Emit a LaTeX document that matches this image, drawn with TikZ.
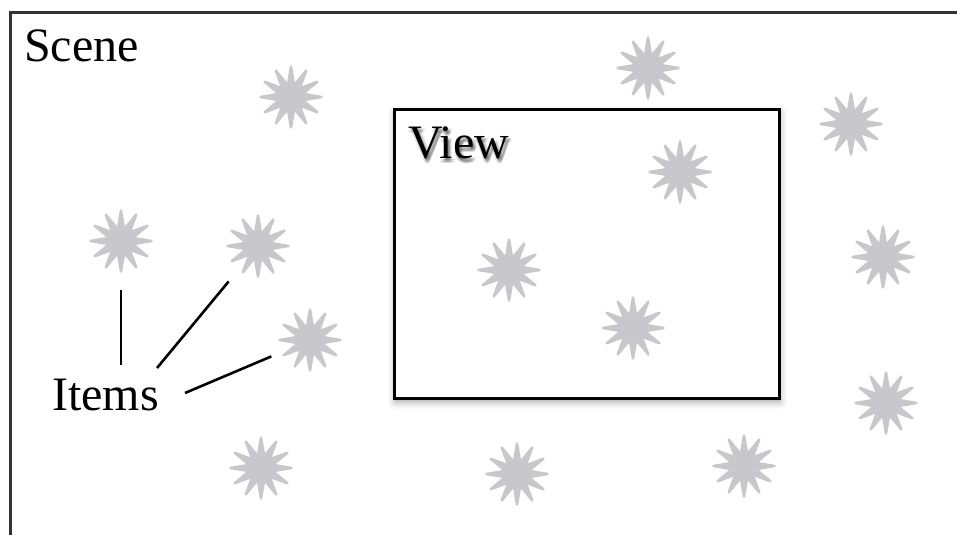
\documentclass[tikz,border=0pt]{standalone}
\usepackage{fontspec}
\setmainfont{Liberation Serif}
\usetikzlibrary{shapes}
\usetikzlibrary{shadows.blur}
\usetikzlibrary{calc}
\definecolor{ItemGrey}{RGB}{200,200,204}
\definecolor{FrameGrey}{RGB}{51,51,51}

\tikzset{
	item/.style={star,star points=12,star point ratio=2.5,minimum size=61pt,inner sep=0pt,fill=ItemGrey,draw=ItemGrey,line width=2.5pt,line join=round},
	label/.style={font=\fontsize{48}{48}\selectfont,inner sep=0pt,anchor=base west},
	pointer/.style={line width=2.6pt,shorten >=46pt}
}

\begin{document}
\begin{tikzpicture}[x=1pt,y=-1pt]
			\useasboundingbox (0,0) rectangle (957,535);
			\begin{scope}
				% scene frame, open to the right and bottom
				\draw[FrameGrey,line width=3pt] (957,13) -- (10,13) -- (10,535);
				\node[label] (scene) at (24,61) {Scene};

				% items spread over the scene
				\node[item] (s1) at (291,97) {};
				\node[item] (s2) at (648,68) {};
				\node[item] (s3) at (851,124) {};
				\node[item] (s5) at (121,241) {};
				\node[item] (s6) at (258,246) {};
				\node[item] (s8) at (883,257) {};
				\node[item] (s9) at (310,340) {};
				\node[item] (s11) at (886,403) {};
				\node[item] (s12) at (261,468) {};
				\node[item] (s13) at (517,474) {};
				\node[item] (s14) at (744,466) {};

				% the view window
				\node[draw,line width=3pt,minimum width=385pt,minimum height=289pt,inner sep=0pt,fill=white,
					blur shadow={shadow xshift=1pt,shadow yshift=-4pt,shadow blur radius=7pt,shadow opacity=35}] (view) at (586.5,253.5) {};
				\node[item] (s4) at (680,172) {};
				\node[item] (s7) at (509,270) {};
				\node[item] (s10) at (633,328) {};
				% soft shadow under the view title
				\foreach \dx/\dy in {1/2,2/3,3/4,2/5,0/4,4/2}
					\node[label,text=black,opacity=0.12] at (408+\dx,158+\dy) {View};
				\node[label] (viewlabel) at (408,158) {View};

				% items label and its pointers
				\node[label] (items) at (52,410) {Items};
				\coordinate (p5) at (121,365);
				\coordinate (p6) at (157,368);
				\coordinate (p9) at (185,393);
				\draw[pointer,shorten >=49pt] (p5) -- (s5.center);
				\draw[pointer,shorten >=46pt] (p6) -- (s6.center);
				\draw[pointer,shorten >=42pt] (p9) -- (s9.center);
			\end{scope}
		\end{tikzpicture}
\end{document}
